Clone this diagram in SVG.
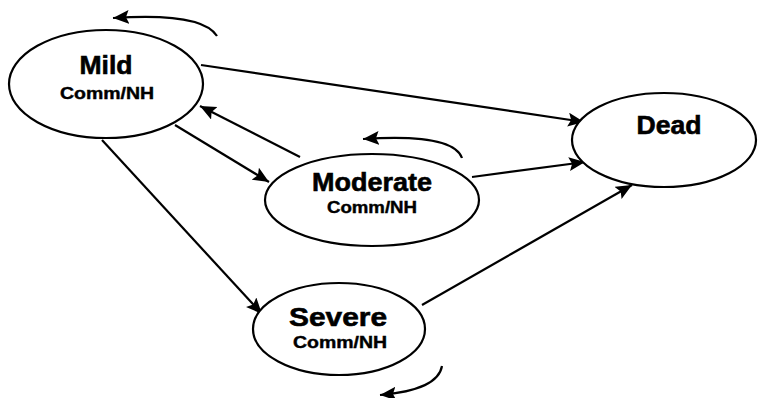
<svg xmlns="http://www.w3.org/2000/svg" width="760" height="398" viewBox="0 0 760 398">
  <style>
    .state { fill: #fff; stroke: #000; stroke-width: 2.2; }
    .title { font-family: "Liberation Sans", Arial, sans-serif; font-weight: bold; font-size: 26px; text-anchor: middle; fill: #000; stroke: #000; stroke-width: 0.6; }
    .sub { font-family: "Liberation Sans", Arial, sans-serif; font-weight: bold; font-size: 16px; text-anchor: middle; fill: #000; stroke: #000; stroke-width: 0.4; }
    .edge { fill: none; stroke: #000; stroke-width: 2.2; marker-end: url(#arrow); }
  </style>
  <defs>
    <marker id="arrow" markerUnits="userSpaceOnUse" markerWidth="17" markerHeight="15" refX="16" refY="7" orient="auto">
      <path d="M0,0 L16,7 L0,14 L3,7 z" fill="#000"/>
    </marker>
  </defs>
  <rect width="760" height="398" fill="#fff"/>

  <g id="connectors">
    <!-- transitions between states -->
    <line class="edge" x1="201" y1="65" x2="584" y2="122"/>
    <line class="edge" x1="300" y1="157" x2="200" y2="106"/>
    <line class="edge" x1="175" y1="125" x2="269" y2="182"/>
    <line class="edge" x1="102" y1="140" x2="262" y2="314"/>
    <line class="edge" x1="472" y1="177" x2="585" y2="162"/>
    <line class="edge" x1="422" y1="305" x2="632" y2="185"/>
    <!-- stay-in-state loops -->
    <path class="edge" d="M217,36 Q202,12 113,18"/>
    <path class="edge" d="M462,158 Q453,133 363,139"/>
    <path class="edge" d="M442,366 Q438,390 380,395"/>
  </g>

  <g id="mild">
    <ellipse class="state" cx="106" cy="84" rx="97" ry="54"/>
    <text class="title" x="106" y="74" textLength="53" lengthAdjust="spacingAndGlyphs">Mild</text>
    <text class="sub" x="107" y="99" textLength="94" lengthAdjust="spacingAndGlyphs">Comm/NH</text>
  </g>

  <g id="moderate">
    <ellipse class="state" cx="372" cy="200" rx="107" ry="46"/>
    <text class="title" x="372" y="191" textLength="120" lengthAdjust="spacingAndGlyphs">Moderate</text>
    <text class="sub" x="372" y="213" textLength="90" lengthAdjust="spacingAndGlyphs">Comm/NH</text>
  </g>

  <g id="dead">
    <ellipse class="state" cx="664" cy="140" rx="92" ry="47"/>
    <text class="title" x="669" y="134" textLength="65" lengthAdjust="spacingAndGlyphs">Dead</text>
  </g>

  <g id="severe">
    <ellipse class="state" cx="339" cy="329" rx="86" ry="46"/>
    <text class="title" x="338" y="326" textLength="98" lengthAdjust="spacingAndGlyphs">Severe</text>
    <text class="sub" x="340" y="348" textLength="94" lengthAdjust="spacingAndGlyphs">Comm/NH</text>
  </g>
</svg>
